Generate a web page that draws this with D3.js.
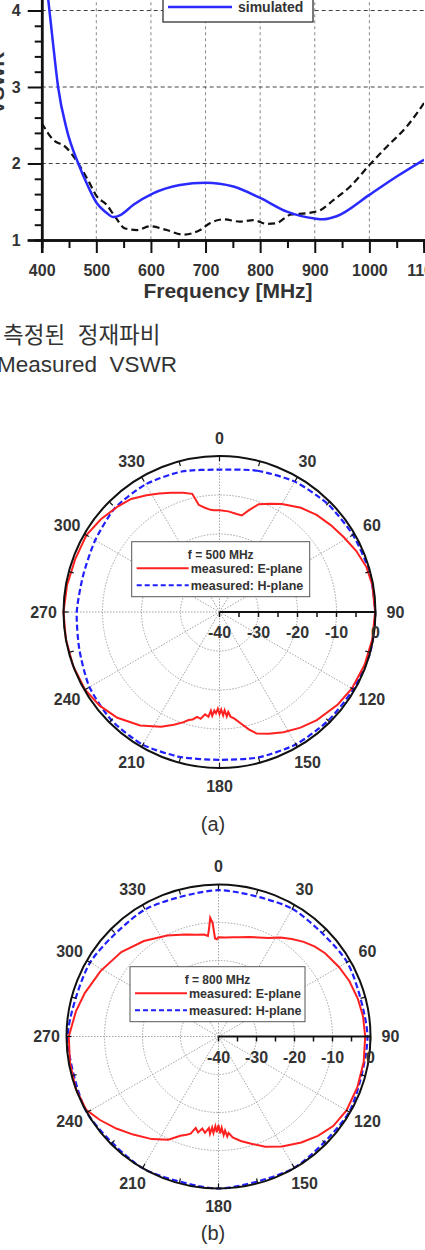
<!DOCTYPE html>
<html lang="ko">
<head>
<meta charset="UTF-8">
<title>VSWR and radiation patterns</title>
<script src="https://d3js.org/d3.v7.min.js"></script>
<style>
  body { margin: 0; background: #fff; }
  svg { display: block; font-family: "Liberation Sans", Arial, sans-serif; }
  .lbl { fill: #333; font-weight: bold; }
</style>
</head>
<body>
<div id="chart"></div>
<script>
// ---- VSWR chart data ----
const freqSim = [400, 405, 412, 420, 430, 446, 467, 485, 501, 518, 531, 545, 568, 604, 653, 700, 751, 800, 849, 900, 915, 940, 1000, 1050, 1100];
const vswrSim = [4.9, 4.55, 4.14, 3.62, 3.0, 2.44, 2.0, 1.7, 1.48, 1.36, 1.30, 1.33, 1.46, 1.61, 1.72, 1.75, 1.70, 1.55, 1.37, 1.28, 1.27, 1.31, 1.59, 1.83, 2.05];
const freqMeas = [400, 421, 443, 467, 485, 501, 519, 532, 553, 574, 598, 629, 659, 690, 708, 733, 763, 788, 812, 830, 855, 885, 910, 934, 965, 1000, 1032, 1068, 1100];
const vswrMeas = [2.53, 2.31, 2.22, 2.0, 1.78, 1.57, 1.46, 1.33, 1.15, 1.13, 1.18, 1.13, 1.07, 1.13, 1.22, 1.27, 1.24, 1.26, 1.21, 1.22, 1.33, 1.35, 1.39, 1.52, 1.70, 1.98, 2.22, 2.48, 2.79];
const xTicks = [400, 500, 600, 700, 800, 900, 1000, 1100];
const yTicks = [1, 2, 3, 4];

// ---- polar pattern data: angle (deg) and normalized gain (dB) ----
const angleLabels = [0, 30, 60, 90, 120, 150, 180, 210, 240, 270, 300, 330];
const dbTicks = [-40, -30, -20, -10, 0];

const eAng500 = [0, 5, 10, 13, 16, 20, 25, 30, 38, 45, 52, 59, 66, 73, 80, 90, 100, 110, 120, 128, 138, 145, 152, 158, 163, 166, 169, 172, 174, 175, 176, 177, 178, 179, 180, 181, 182, 183, 184, 185, 186, 188, 190, 192, 194, 196, 198, 202, 207, 215, 224, 232, 240, 250, 260, 270, 280, 290, 300, 308, 316, 322, 328, 333, 338, 343, 347, 348, 349, 352, 355, 357];
const eDb500 = [-13.9, -14.1, -14.5, -14.6, -12.9, -10.6, -9.4, -8.0, -6.1, -4.8, -3.8, -2.8, -1.6, -0.6, -0.2, -0.1, -0.2, -0.4, -0.8, -1.5, -2.7, -3.8, -5.1, -6.3, -7.4, -9.0, -10.8, -12.4, -13.0, -14.3, -13.2, -14.8, -13.5, -15.0, -13.8, -15.2, -14.0, -14.7, -13.3, -14.6, -13.0, -13.5, -12.2, -12.5, -11.6, -11.2, -10.3, -8.8, -7.0, -4.5, -2.3, -1.0, -0.2, 0, 0, 0, -0.3, -0.6, -0.6, -1.4, -2.4, -3.2, -4.7, -5.9, -7.0, -8.0, -8.9, -10.5, -12.0, -13.0, -13.7, -13.9];
const hAng500 = [0, 15, 30, 45, 60, 75, 90, 105, 120, 135, 150, 165, 180, 195, 210, 225, 240, 255, 270, 285, 300, 315, 330, 345];
const hDb500 = [-3.5, -2.5, -1.4, -0.8, -0.5, -0.2, -0.1, 0, -0.4, -0.6, -0.8, -1.4, -2.1, -1.5, -0.7, -0.8, -1.5, -2.8, -3.4, -3.8, -3.2, -2.2, -2.2, -2.7];

const eAng800 = [0, 4, 8, 12, 17, 22, 27, 32, 37, 42, 47, 52, 60, 67, 75, 82, 90, 100, 110, 120, 128, 135, 142, 150, 157, 163, 168, 172, 174, 175, 176, 177, 178, 179, 180, 181, 182, 183, 184, 185, 186, 188, 190, 192, 194, 196, 198, 201, 206, 213, 221, 228, 235, 241, 250, 260, 270, 280, 288, 299, 311, 322, 333, 342, 348, 352, 354, 355, 356, 357, 358, 359];
const eDb800 = [-13.9, -13.9, -13.6, -13.3, -12.6, -11.9, -10.9, -9.3, -7.9, -6.5, -5.3, -4.4, -3.4, -2.6, -2.0, -1.6, -1.4, -1.2, -1.1, -1.1, -1.7, -3.0, -4.6, -6.6, -8.5, -10.5, -11.9, -13.2, -14.5, -13.6, -15.2, -14.0, -16.0, -14.5, -16.7, -14.8, -16.4, -14.6, -16.0, -14.3, -15.8, -14.4, -15.4, -14.2, -15.2, -13.4, -12.8, -12.0, -9.8, -7.8, -5.8, -3.8, -1.8, -0.2, 0, -0.3, -0.6, -1.9, -3.0, -4.5, -6.1, -8.1, -10.2, -11.8, -12.6, -12.9, -13.4, -11.5, -8.7, -10.0, -14.2, -14.4];
const hAng800 = [0, 30, 60, 90, 120, 150, 180, 210, 240, 270, 300, 330];
const hDb800 = [-1.5, -1.2, -0.9, -0.8, -0.3, -0.1, 0, 0, 0, -0.3, -1.0, -1.4];

const W = 425, H = 1250;
const svg = d3.select("#chart").append("svg")
  .attr("width", W).attr("height", H);

// ================= VSWR chart =================
const x = d3.scaleLinear().domain([400, 1100]).range([41.7, 424]);
const y = d3.scaleLinear().domain([1, 4.5]).range([240, -27.75]);

const vs = svg.append("g");

vs.append("defs").append("clipPath").attr("id", "plotclip")
  .append("rect").attr("x", x(400)).attr("y", y(4.5))
  .attr("width", x(1100) - x(400)).attr("height", y(1) - y(4.5));

// grid
vs.selectAll(".vgrid").data(xTicks.slice(1, -1)).enter().append("line")
  .attr("x1", d => x(d)).attr("x2", d => x(d))
  .attr("y1", y(4.5)).attr("y2", y(1))
  .attr("stroke", "#888").attr("stroke-width", 1).attr("stroke-dasharray", "3,3");
vs.selectAll(".hgrid").data(yTicks.slice(1)).enter().append("line")
  .attr("x1", x(400)).attr("x2", x(1100))
  .attr("y1", d => y(d)).attr("y2", d => y(d))
  .attr("stroke", "#444").attr("stroke-width", 1).attr("stroke-dasharray", "4,3");

// curves
const vline = d3.line().x(d => x(d[0])).y(d => y(d[1])).curve(d3.curveMonotoneX);
vs.append("path")
  .datum(freqMeas.map((f, i) => [f, vswrMeas[i]]))
  .attr("clip-path", "url(#plotclip)")
  .attr("fill", "none").attr("stroke", "#111").attr("stroke-width", 2.2)
  .attr("stroke-dasharray", "7,4").attr("d", vline);
vs.append("path")
  .datum(freqSim.map((f, i) => [f, vswrSim[i]]))
  .attr("clip-path", "url(#plotclip)")
  .attr("fill", "none").attr("stroke", "#2a2aff").attr("stroke-width", 2.5)
  .attr("d", vline);

// axes
const minorX = d3.range(450, 1100, 100);
const minorY = d3.range(1.2, 4.5, 0.2).filter(v => Math.abs(v - Math.round(v)) > 0.01);

function styleAxis(g) {
  g.select(".domain").attr("stroke", "#111").attr("stroke-width", 2.5);
  g.selectAll(".tick line").attr("stroke", "#111").attr("stroke-width", 2);
}

vs.append("g").attr("transform", `translate(0,${y(1)})`)
  .call(d3.axisBottom(x).tickValues(minorX).tickSize(8).tickFormat(""))
  .call(styleAxis);
const xa = vs.append("g").attr("transform", `translate(0,${y(1)})`)
  .call(d3.axisBottom(x).tickValues(xTicks).tickSize(13).tickPadding(12).tickFormat(d3.format("d")))
  .call(styleAxis);
xa.selectAll("text").attr("class", "lbl").attr("font-size", 16).attr("font-family", null);

vs.append("g").attr("transform", `translate(${x(400)},0)`)
  .call(d3.axisLeft(y).tickValues(minorY).tickSize(7).tickFormat(""))
  .call(styleAxis);
const ya = vs.append("g").attr("transform", `translate(${x(400)},0)`)
  .call(d3.axisLeft(y).tickValues(yTicks).tickSize(14).tickPadding(7).tickFormat(d3.format("d")))
  .call(styleAxis);
ya.selectAll("text").attr("class", "lbl").attr("font-size", 16).attr("font-family", null);

vs.append("text").attr("class", "lbl")
  .attr("x", 228).attr("y", 298).attr("text-anchor", "middle")
  .attr("font-size", 21).text("Frequency [MHz]");
vs.append("text").attr("class", "lbl")
  .attr("transform", "translate(4,83) rotate(-90)")
  .attr("text-anchor", "middle").attr("font-size", 21).text("VSWR");

// legend (mostly above the visible area)
const lg = vs.append("g");
lg.append("rect").attr("x", 163).attr("y", -26).attr("width", 150).attr("height", 48)
  .attr("fill", "#fff").attr("stroke", "#333").attr("stroke-width", 1.3);
lg.append("line").attr("x1", 168).attr("x2", 232).attr("y1", -11).attr("y2", -11)
  .attr("stroke", "#111").attr("stroke-width", 2.2).attr("stroke-dasharray", "7,4");
lg.append("text").attr("class", "lbl").attr("x", 238).attr("y", -6)
  .attr("font-size", 14).text("measured");
lg.append("line").attr("x1", 168).attr("x2", 232).attr("y1", 7).attr("y2", 7)
  .attr("stroke", "#2a2aff").attr("stroke-width", 2.5);
lg.append("text").attr("class", "lbl").attr("x", 238).attr("y", 12)
  .attr("font-size", 14).text("simulated");

// captions
svg.append("text").attr("x", 3).attr("y", 343)
  .attr("font-family", "'Noto Sans CJK KR', sans-serif")
  .attr("font-size", 22.5).attr("fill", "#333").style("white-space", "pre").text("측정된  정재파비");
svg.append("text").attr("x", -3).attr("y", 372)
  .attr("font-size", 22.5).attr("fill", "#333")
  .style("white-space", "pre").text("Measured  VSWR");

// ================= polar patterns =================
function drawPolar(cx, cy, R, freqText, eAng, eDb, hAng, hDb, box, caption, capY) {
  const g = svg.append("g").attr("transform", `translate(${cx},${cy})`);
  const r = d3.scaleLinear().domain([-40, 0]).range([0, R]).clamp(true);
  const rad = a => a * Math.PI / 180;

  // grid circles
  g.selectAll(".ring").data(dbTicks.slice(1, -1)).enter().append("circle")
    .attr("r", d => r(d)).attr("fill", "none")
    .attr("stroke", "#999").attr("stroke-width", 0.9).attr("stroke-dasharray", "1.5,1.5");
  // spokes
  g.selectAll(".spoke").data(angleLabels).enter().append("line")
    .attr("x1", 0).attr("y1", 0)
    .attr("x2", d => R * Math.sin(rad(d))).attr("y2", d => -R * Math.cos(rad(d)))
    .attr("stroke", "#999").attr("stroke-width", 0.9).attr("stroke-dasharray", "1.5,1.5");

  // legend box
  const lgp = g.append("g");
  const lx = box.x - cx;
  const ly = box.y - cy;
  lgp.append("rect").attr("x", lx).attr("y", ly)
    .attr("width", box.w).attr("height", 55)
    .attr("fill", "#fff").attr("stroke", "#555").attr("stroke-width", 1);
  lgp.append("text").attr("class", "lbl").attr("x", lx + box.w / 2).attr("y", ly + 17)
    .attr("text-anchor", "middle").attr("font-size", 12).text(freqText);
  lgp.append("line").attr("x1", lx + 5).attr("x2", lx + 57).attr("y1", ly + 26.5).attr("y2", ly + 26.5)
    .attr("stroke", "#ff2020").attr("stroke-width", 2);
  lgp.append("text").attr("class", "lbl").attr("x", lx + 59).attr("y", ly + 31)
    .attr("font-size", 12.5).text("measured: E-plane");
  lgp.append("line").attr("x1", lx + 5).attr("x2", lx + 57).attr("y1", ly + 43.5).attr("y2", ly + 43.5)
    .attr("stroke", "#2020ff").attr("stroke-width", 2).attr("stroke-dasharray", "5,3");
  lgp.append("text").attr("class", "lbl").attr("x", lx + 59).attr("y", ly + 48)
    .attr("font-size", 12.5).text("measured: H-plane");

  // patterns
  const hLine = d3.lineRadial()
    .angle(d => rad(d[0])).radius(d => r(d[1]))
    .curve(d3.curveCardinalClosed.tension(0.3));
  const eLine = d3.lineRadial()
    .angle(d => rad(d[0])).radius(d => r(d[1]))
    .curve(d3.curveLinearClosed);
  g.append("path").datum(hAng.map((a, i) => [a, hDb[i]]))
    .attr("fill", "none").attr("stroke", "#2020ff").attr("stroke-width", 2.2)
    .attr("stroke-dasharray", "6,3").attr("d", hLine);
  g.append("path").datum(eAng.map((a, i) => [a, eDb[i]]))
    .attr("fill", "none").attr("stroke", "#ff2020").attr("stroke-width", 2)
    .attr("d", eLine);

  // outer circle and ticks
  g.append("circle").attr("r", R).attr("fill", "none")
    .attr("stroke", "#111").attr("stroke-width", 2);
  g.selectAll(".atick").data(d3.range(0, 360, 15)).enter().append("line")
    .attr("x1", d => R * Math.sin(rad(d))).attr("y1", d => -R * Math.cos(rad(d)))
    .attr("x2", d => (R - 5) * Math.sin(rad(d))).attr("y2", d => -(R - 5) * Math.cos(rad(d)))
    .attr("stroke", "#111").attr("stroke-width", 1.2);

  // angle labels
  g.selectAll(".alab").data(angleLabels).enter().append("text")
    .attr("class", "lbl").attr("font-size", 16)
    .attr("text-anchor", "middle").attr("dominant-baseline", "central")
    .attr("x", d => (R + 20) * Math.sin(rad(d)))
    .attr("y", d => -(R + 18) * Math.cos(rad(d)))
    .text(d => d);

  // radial axis along 90 deg
  g.append("line").attr("x1", 0).attr("x2", R).attr("y1", 0).attr("y2", 0)
    .attr("stroke", "#111").attr("stroke-width", 2);
  g.selectAll(".rtick").data(d3.range(-40, 1, 5)).enter().append("line")
    .attr("x1", d => r(d)).attr("x2", d => r(d)).attr("y1", 0).attr("y2", 5)
    .attr("stroke", "#111").attr("stroke-width", 1.5);
  g.selectAll(".rlab").data(dbTicks).enter().append("text")
    .attr("class", "lbl").attr("font-size", 16).attr("text-anchor", "middle")
    .attr("x", d => r(d)).attr("y", 26).text(d => d);

  svg.append("text").attr("x", 213).attr("y", capY).attr("text-anchor", "middle")
    .attr("font-size", 20).attr("fill", "#333").text(caption);
}

drawPolar(219.5, 612, 156, "f = 500 MHz", eAng500, eDb500, hAng500, hDb500,
  { x: 131.7, y: 541.7, w: 178 }, "(a)", 831);
drawPolar(218.5, 1036.5, 152, "f = 800 MHz", eAng800, eDb800, hAng800, hDb800,
  { x: 130, y: 966.7, w: 175 }, "(b)", 1240);
</script>
</body>
</html>
